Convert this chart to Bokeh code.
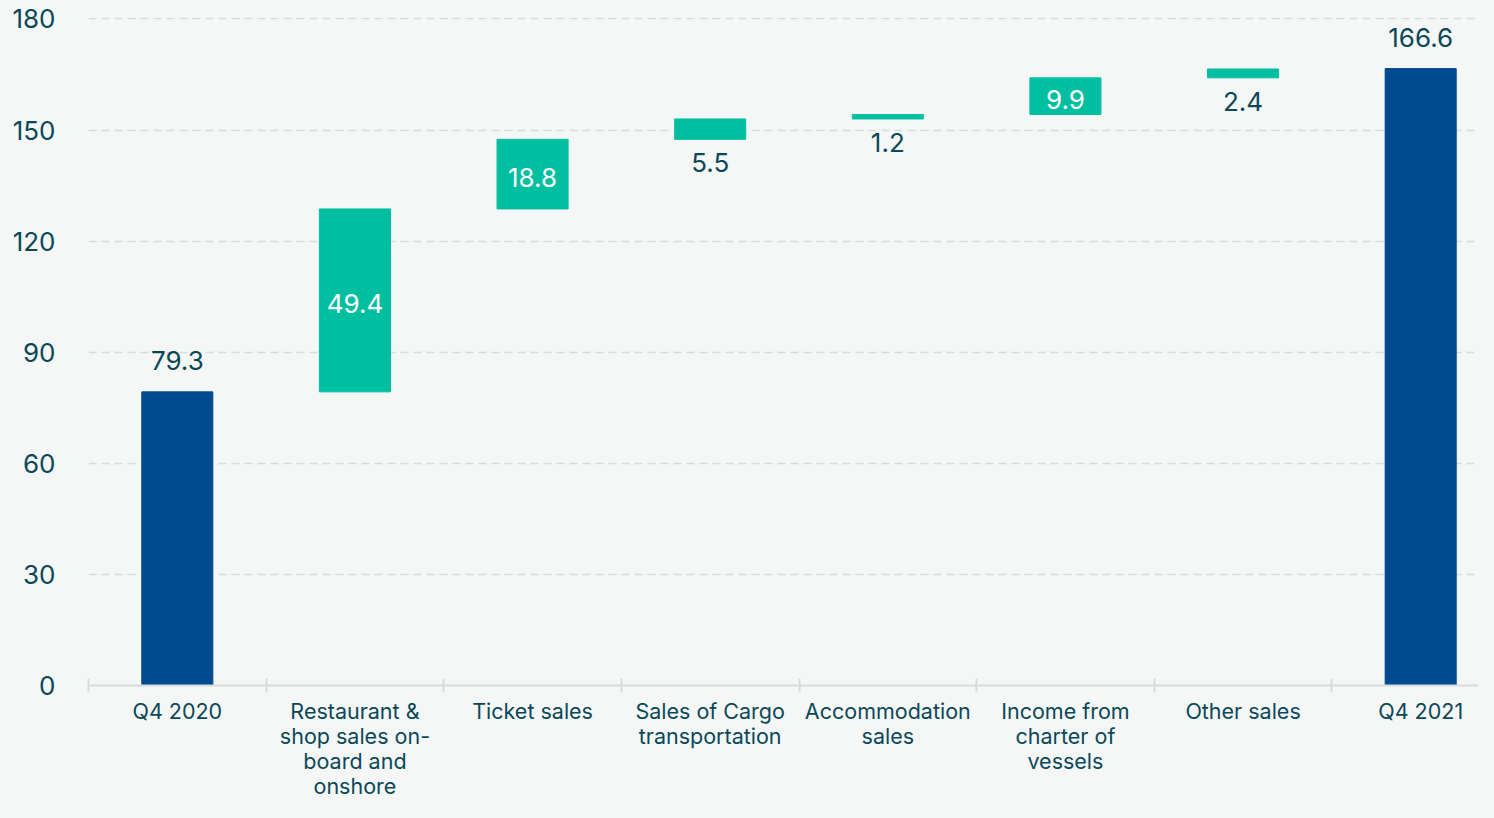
from bokeh.plotting import figure
from bokeh.models import Range1d, FixedTicker, ColumnDataSource, LinearAxis
from bokeh.core.properties import value
from bokeh.embed import file_html
from bokeh.resources import INLINE

categories = ["Q4 2020", "Restaurant &\nshop sales on-\nboard and\nonshore", "Ticket sales",
              "Sales of Cargo\ntransportation", "Accommodation\nsales", "Income from\ncharter of\nvessels",
              "Other sales", "Q4 2021"]
values = [79.3, 49.4, 18.8, 5.5, 1.2, 9.9, 2.4, 166.6]
is_total = [True, False, False, False, False, False, False, True]
y_ticks = [0, 30, 60, 90, 120, 150, 180]

BLUE = "#004b8f"
TEAL = "#00bfa0"
TEXT = "#0b4857"
BG = "#f5f7f7"
GRID = "#d9dcdc"
FONT = "Inter"

W, H = 1478, 802
LEFT = 88
n = len(categories)
bottoms, tops = [], []
run = 0.0
for v, t in zip(values, is_total):
    if t:
        bottoms.append(0.0); tops.append(v); run = v
    else:
        bottoms.append(run); tops.append(run + v); run += v
x = [i + 0.5 for i in range(n)]
colors = [BLUE if t else TEAL for t in is_total]

src = ColumnDataSource(dict(x=x, bottom=bottoms, top=tops, color=colors))

p = figure(width=W, height=H, output_backend="svg", toolbar_location=None,
           x_range=Range1d(0, n * (W - LEFT) / 1421), y_range=Range1d(0, 180.4),
           background_fill_color=BG, border_fill_color=BG, outline_line_color=None,
           min_border_top=17, min_border_left=LEFT, min_border_right=0, min_border_bottom=0,
           x_axis_type=None)

p.vbar(x="x", bottom="bottom", top="top", width=0.4, color="color", source=src)

above = dict(x=[], y=[], t=[])
inside = dict(x=[], y=[], t=[])
below = dict(x=[], y=[], t=[])
for xi, b, tp, v, t in zip(x, bottoms, tops, values, is_total):
    s = f"{v:.1f}"
    if t:
        above["x"].append(xi); above["y"].append(tp); above["t"].append(s)
    elif v > 8:
        inside["x"].append(xi); inside["y"].append((b + tp) / 2); inside["t"].append(s)
    else:
        below["x"].append(xi); below["y"].append(b); below["t"].append(s)

common = dict(text_font=value(FONT), text_font_size="26px", text_align="center")
p.text(x="x", y="y", text="t", source=ColumnDataSource(above), text_baseline="bottom",
       y_offset=-22, text_color=TEXT, **common)
p.text(x="x", y="y", text="t", source=ColumnDataSource(inside), text_baseline="middle",
       y_offset=3, text_color="white", **common)
p.text(x="x", y="y", text="t", source=ColumnDataSource(below), text_baseline="top",
       y_offset=14, text_color=TEXT, **common)

p.yaxis.ticker = FixedTicker(ticks=y_ticks)
p.yaxis.axis_line_color = None
p.yaxis.major_tick_line_color = None
p.yaxis.minor_tick_line_color = None
p.yaxis.major_label_text_font = FONT
p.yaxis.major_label_text_font_size = "26px"
p.yaxis.major_label_text_color = TEXT
p.yaxis.major_label_standoff = 27

p.ygrid.grid_line_color = GRID
p.ygrid.grid_line_dash = "8 5"
p.ygrid.grid_line_width = 1.5
p.xgrid.grid_line_color = None

xaxis = LinearAxis(ticker=FixedTicker(ticks=x, minor_ticks=list(range(n + 1))),
                   major_label_overrides={xi: c for xi, c in zip(x, categories)},
                   axis_line_color=GRID, axis_line_width=2,
                   major_tick_line_color=None, major_tick_in=0, major_tick_out=0,
                   minor_tick_line_color=GRID, minor_tick_line_width=2,
                   minor_tick_in=7, minor_tick_out=7,
                   major_label_text_font=FONT, major_label_text_font_size="21.5px",
                   major_label_text_color=TEXT, major_label_standoff=5,
                   major_label_text_line_height=0.97)
p.add_layout(xaxis, "below")

html = file_html(p, INLINE)
html = html.replace("</head>", f"<style>html,body{{background:{BG};}}</style></head>", 1)
open("out.html", "w").write(html)
